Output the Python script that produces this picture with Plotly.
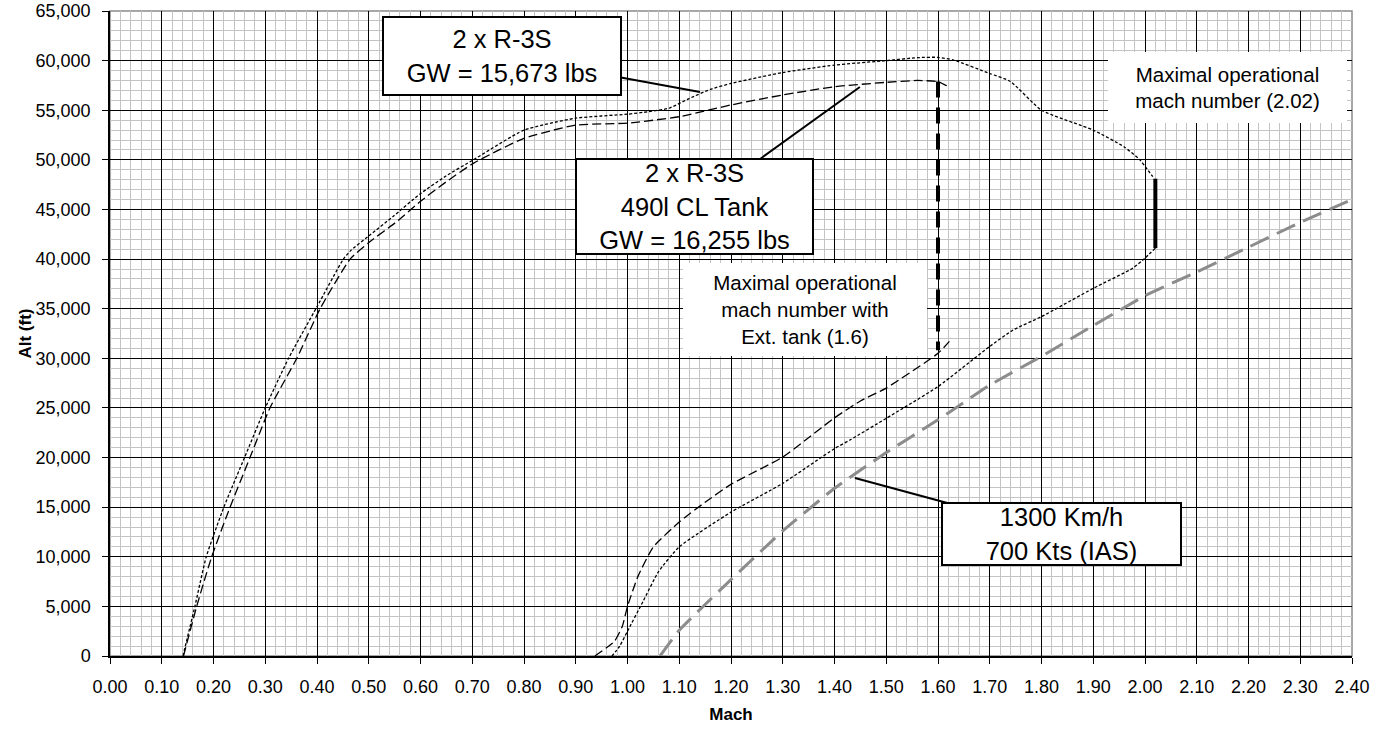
import plotly.graph_objects as go

FONT = "Liberation Sans, Arial, sans-serif"

# ---- data ----
# 2 x R-3S, GW = 15,673 lbs (dotted) - upper/left envelope
s1_upper_mach = [0.141, 0.164, 0.186, 0.220, 0.260, 0.300, 0.345, 0.400, 0.451, 0.466, 0.503, 0.547, 0.600,
                 0.650, 0.702, 0.800, 0.900, 1.000, 1.040, 1.080, 1.120, 1.160, 1.200, 1.300, 1.400, 1.500,
                 1.560, 1.600, 1.630, 1.700, 1.740, 1.800, 1.900, 1.960, 1.990, 2.015]
s1_upper_alt = [0, 5000, 10000, 15000, 20000, 25000, 30000, 35200, 40000, 40900, 42450, 44300, 46600,
                48400, 50000, 53000, 54200, 54600, 54850, 55200, 56200, 57100, 57700, 58800, 59550, 60000,
                60300, 60330, 60060, 58700, 57900, 55000, 53000, 51300, 50000, 48300]
# dotted - lower/right branch
s1_lower_mach = [2.020, 2.000, 1.977, 1.900, 1.800, 1.745, 1.700, 1.600, 1.500, 1.430, 1.400, 1.300,
                 1.200, 1.100, 1.060, 1.030, 1.000, 0.985, 0.970]
s1_lower_alt = [41100, 40100, 39100, 37050, 34200, 32850, 31200, 27150, 23950, 21770, 20900, 17400,
                14500, 11000, 8500, 5500, 2500, 1000, 0]

# 2 x R-3S + 490l CL tank, GW = 16,255 lbs (dashed)
s2_upper_mach = [0.142, 0.1675, 0.1965, 0.232, 0.2705, 0.309, 0.361, 0.406, 0.464, 0.502, 0.554, 0.599,
                 0.650, 0.702, 0.800, 0.900, 1.000, 1.100, 1.200, 1.300, 1.400, 1.500, 1.560, 1.600, 1.617]
s2_upper_alt = [0, 5000, 10000, 15000, 20000, 25000, 30000, 35000, 40000, 41750, 43770, 45780,
                47800, 49650, 52170, 53500, 53700, 54350, 55530, 56540, 57370, 57810, 58000, 57880, 57470]
s2_lower_mach = [0.937, 0.975, 0.990, 1.000, 1.020, 1.050, 1.100, 1.150, 1.200, 1.300, 1.400, 1.450,
                 1.500, 1.600, 1.622]
s2_lower_alt = [0, 1500, 3000, 5000, 8000, 11000, 13500, 15500, 17300, 20050, 24000, 25700,
                27000, 30500, 31700]

# 1300 Km/h / 700 Kts IAS limit (grey dashed)
ias_mach = [1.063, 1.100, 1.200, 1.300, 1.400, 1.500, 1.600, 1.700, 1.800, 1.900, 2.000, 2.100,
            2.200, 2.300, 2.400]
ias_alt = [0, 2600, 7700, 12600, 16900, 20500, 23800, 27300, 30200, 33300, 36300, 38700,
           41200, 43700, 46000]

# max operational mach limits
ext_limit_mach = [1.60, 1.60]
ext_limit_alt = [57900, 30800]
max_limit_mach = [2.02, 2.02]
max_limit_alt = [41100, 48100]

# ---- figure ----
fig = go.Figure()

dotted = dict(color="black", width=1.3, dash="3px,2px", shape="spline", smoothing=0.5)
dashed = dict(color="black", width=1.3, dash="9px,4px", shape="spline", smoothing=0.5)

fig.add_trace(go.Scatter(x=s1_upper_mach, y=s1_upper_alt, mode="lines", line=dotted, hoverinfo="skip"))
fig.add_trace(go.Scatter(x=s1_lower_mach, y=s1_lower_alt, mode="lines", line=dotted, hoverinfo="skip"))
fig.add_trace(go.Scatter(x=s2_upper_mach, y=s2_upper_alt, mode="lines", line=dashed, hoverinfo="skip"))
fig.add_trace(go.Scatter(x=s2_lower_mach, y=s2_lower_alt, mode="lines", line=dashed, hoverinfo="skip"))
fig.add_trace(go.Scatter(x=ias_mach, y=ias_alt, mode="lines",
                         line=dict(color="#8c8c8c", width=3, dash="20px,9px", shape="spline", smoothing=0.4),
                         hoverinfo="skip"))
fig.add_trace(go.Scatter(x=ext_limit_mach, y=ext_limit_alt, mode="lines",
                         line=dict(color="black", width=4, dash="16px,10px"), hoverinfo="skip"))
fig.add_trace(go.Scatter(x=max_limit_mach, y=max_limit_alt, mode="lines",
                         line=dict(color="black", width=4), hoverinfo="skip"))

fig.update_layout(
    width=1389, height=731,
    margin=dict(l=110, r=37, t=11, b=75, autoexpand=False),
    paper_bgcolor="white", plot_bgcolor="white",
    showlegend=False,
    font=dict(family=FONT, size=18, color="black"),
)

fig.update_xaxes(
    range=[0, 2.4], tick0=0, dtick=0.1, tickformat=".2f", automargin=False,
    showgrid=True, gridcolor="black", gridwidth=1.2,
    minor=dict(dtick=0.02, showgrid=True, gridcolor="#c4c4c4", gridwidth=1.2),
    showline=True, linecolor="black", linewidth=1.5,
    ticks="outside", ticklen=6, tickcolor="black", tickwidth=1.2,
    ticklabelstandoff=8,
    zeroline=False,
    title=dict(text="<b>Mach</b>", font=dict(size=17), standoff=12),
)
fig.update_yaxes(
    range=[0, 65000], tick0=0, dtick=5000, tickformat=",d", automargin=False,
    showgrid=True, gridcolor="black", gridwidth=1.2,
    minor=dict(dtick=1000, showgrid=True, gridcolor="#c4c4c4", gridwidth=1.2),
    showline=True, linecolor="black", linewidth=1.5,
    ticks="outside", ticklen=6, tickcolor="black", tickwidth=1.2,
    ticklabelstandoff=8,
    zeroline=False,
    title=dict(text="<b>Alt (ft)</b>", font=dict(size=17), standoff=0),
)

# plot-area border (top/right grey)
fig.add_shape(type="rect", xref="paper", yref="paper", x0=0, x1=1, y0=0, y1=1,
              line=dict(color="#8a8a8a", width=1.5), layer="between")

box_common = dict(xref="x", yref="y", showarrow=True, arrowhead=0, arrowwidth=2, arrowcolor="black",
                  axref="pixel", ayref="pixel", bordercolor="black", borderwidth=2, borderpad=0,
                  bgcolor="white", font=dict(size=25.5, family=FONT, color="black"))

fig.add_annotation(x=1.140, y=56840, ax=-198, ay=-36, width=236, height=76,
                   text="2 x R-3S<br>GW = 15,673 lbs", **box_common)
fig.add_annotation(x=1.449, y=57340, ax=-165, ay=119, width=235, height=93,
                   text="2 x R-3S<br>490l CL Tank<br>GW = 16,255 lbs", **box_common)
fig.add_annotation(x=1.4396, y=17940, ax=207, ay=56, width=237, height=60,
                   text="1300 Km/h<br>700 Kts (IAS)", **box_common)

note_common = dict(xref="x", yref="y", showarrow=False, bgcolor="white", borderwidth=0, borderpad=0,
                   font=dict(size=20.5, family=FONT, color="black"))
fig.add_annotation(x=1.343, y=34870, width=244, height=93,
                   text="Maximal operational<br>mach number with<br>Ext. tank (1.6)", **note_common)
fig.add_annotation(x=2.159, y=57290, width=239, height=71,
                   text="Maximal operational<br>mach number (2.02)", **note_common)

fig.write_html("out.html")
